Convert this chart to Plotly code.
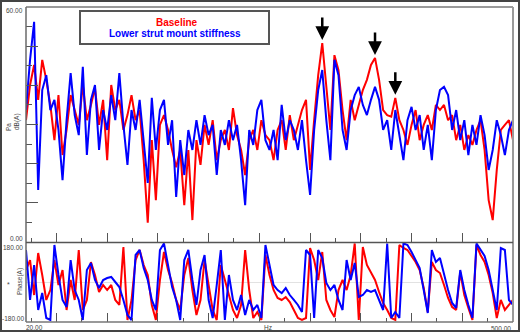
import plotly.graph_objects as go

# Frequency bins (Hz), 4 Hz resolution from 20 to 500 Hz
freq_hz = list(range(20, 501, 4))

# Sound pressure level, dB(A)
spl_baseline = [
    31.1, 40.1, 45.2, 36.3, 46.5, 41.4, 35.0, 26.0, 37.5, 22.2,
    28.6, 37.5, 33.7, 29.9, 40.1, 31.1, 35.0, 39.3, 29.9, 36.3,
    20.9, 40.1, 33.7, 36.3, 28.6, 32.4, 37.5, 31.1, 33.7, 20.9,
    4.9, 26.0, 10.7, 29.9, 32.4, 28.6, 23.5, 19.1, 23.5, 9.4,
    23.5, 5.6, 26.0, 19.7, 29.9, 24.8, 31.1, 20.9, 26.0, 28.6,
    23.5, 34.2, 27.3, 23.5, 17.1, 26.0, 28.6, 23.5, 31.1, 27.3,
    26.0, 20.9, 28.6, 31.1, 23.5, 32.4, 26.0, 29.9, 33.7, 36.3,
    18.4, 31.1, 42.6, 50.8, 38.8, 28.6, 47.7, 43.9, 33.7, 26.0,
    36.3, 31.1, 35.0, 38.8, 41.4, 45.2, 47.0, 41.4, 33.7, 32.4,
    32.0, 36.8, 31.1, 28.6, 24.8, 29.9, 33.7, 26.0, 29.9, 32.4,
    28.6, 35.0, 33.7, 35.0, 31.1, 32.4, 26.0, 29.9, 23.5, 27.3,
    24.8, 28.6, 31.1, 23.5, 10.7, 5.6, 18.4, 28.6, 29.9, 31.1,
    26.0,
]
spl_soft_mount = [
    33.7, 46.5, 56.2, 13.3, 38.8, 42.6, 33.7, 36.3, 28.6, 15.8,
    31.1, 43.1, 32.4, 27.3, 44.7, 22.2, 36.3, 40.1, 23.5, 33.7,
    28.6, 37.5, 31.1, 43.1, 29.9, 19.7, 33.7, 28.6, 36.3, 26.0,
    15.1, 36.8, 23.5, 33.7, 36.3, 24.8, 31.1, 11.5, 26.0, 17.1,
    28.6, 23.5, 31.1, 24.8, 32.4, 27.3, 29.9, 17.1, 28.6, 24.8,
    31.1, 26.0, 29.9, 20.9, 9.4, 28.6, 24.8, 33.7, 36.3, 26.0,
    23.5, 28.6, 20.9, 35.0, 26.0, 31.1, 28.6, 23.5, 31.1, 20.9,
    12.0, 28.6, 38.8, 43.9, 31.1, 20.9, 46.5, 42.6, 28.6, 23.5,
    33.7, 37.5, 39.6, 35.0, 32.4, 36.3, 39.6, 36.3, 28.6, 31.1,
    23.5, 33.7, 27.3, 20.9, 31.1, 34.5, 28.6, 32.4, 23.5, 29.9,
    20.9, 33.7, 38.8, 39.6, 37.5, 28.6, 33.7, 26.0, 31.1, 22.2,
    29.9, 24.8, 32.4, 27.3, 18.4, 23.5, 31.1, 27.3, 22.2, 28.6,
    31.1,
]

# Phase, degrees (wrapped to +/-180)
phase_baseline = [
    57.0, 102.5, -57.0, 134.4, 34.2, -79.7, -34.2, 102.5, -11.4, 57.0,
    -125.3, 11.4, -79.7, 148.1, -125.3, -79.7, 93.4, 34.2, -43.3, -11.4,
    -34.2, -11.4, -79.7, -102.5, 161.8, -170.9, -79.7, 102.5, 148.1, 79.7,
    34.2, -102.5, -170.9, 11.4, 139.0, 57.0, -2.3, -79.7, -125.3, 34.2,
    111.6, -34.2, -148.1, -79.7, 102.5, -11.4, -125.3, -170.9, 79.7, 11.4,
    -57.0, -125.3, -161.8, -102.5, 148.1, -34.2, -161.8, -134.4, -170.9, 125.3,
    34.2, -34.2, -70.6, -79.7, -66.1, -88.9, -125.3, -161.8, -170.9, -161.8,
    157.2, 102.5, 11.4, 139.0, -79.7, -125.3, -157.2, -34.2, 11.4, -34.2,
    34.2, 178.0, -170.9, 161.8, 79.7, 43.3, 11.4, -43.3, -93.4, -125.3,
    -161.8, -170.9, 170.9, 157.2, 148.1, 120.8, 93.4, 57.0, -25.1, -134.4,
    93.4, 57.0, 43.3, -11.4, -70.6, -111.6, -125.3, 47.8, -57.0, -116.2,
    -170.9, 170.9, 125.3, 93.4, 34.2, -47.9, -161.8, -79.7, -125.3, -102.5,
    -79.7,
]
phase_soft_mount = [
    148.1, -79.7, 79.7, -125.3, -47.9, -161.8, -170.9, 170.9, 34.2, -79.7,
    -111.6, 102.5, -34.2, -79.7, -170.9, 57.0, 88.9, 11.4, -25.1, 11.4,
    20.5, 25.1, 2.3, -20.5, -79.7, -148.1, -170.9, 125.3, 148.1, 66.1,
    11.4, -79.7, -125.3, 148.1, 178.0, 79.7, -20.5, -79.7, -170.9, 102.5,
    148.1, 11.4, -102.5, 57.0, 125.3, -79.7, -161.8, -11.4, 148.1, -170.9,
    34.2, -79.7, -125.3, -57.0, -148.1, -79.7, -125.3, -102.5, -161.8, 170.9,
    79.7, -11.4, -34.2, -47.9, -25.1, -57.0, -79.7, -102.5, -134.4, 148.1,
    125.3, -161.8, 148.1, 111.6, -2.3, -34.2, -11.4, -79.7, -125.3, 102.5,
    11.4, 88.9, -66.1, -57.0, -34.2, -43.3, -34.2, -79.7, -125.3, 178.0,
    -161.8, -134.4, -161.8, 178.0, 170.9, 139.0, 102.5, 66.1, -34.2, -139.0,
    148.1, 93.4, 111.6, 34.2, -34.2, -93.4, -116.2, 57.0, -34.2, -102.5,
    -161.8, 178.0, 148.1, 120.8, 57.0, -34.2, -125.3, 157.2, 148.1, -79.7,
    -102.5,
]

# Baseline resonance peaks flagged with arrows (indices into freq_hz)
flagged_peaks = [73, 86, 91]

W, H = 520, 332
FONT = "Liberation Sans, Arial, sans-serif"
RED = "#ff0000"
BLUE = "#0000ff"


def px(x):
    return x / W


def py(y):
    return 1 - y / H


fig = go.Figure()

fig.add_trace(go.Scatter(x=freq_hz, y=spl_baseline, mode="lines",
                         line=dict(color=RED, width=2), xaxis="x", yaxis="y"))
fig.add_trace(go.Scatter(x=freq_hz, y=spl_soft_mount, mode="lines",
                         line=dict(color=BLUE, width=2), xaxis="x", yaxis="y"))
fig.add_trace(go.Scatter(x=freq_hz, y=phase_baseline, mode="lines",
                         line=dict(color=RED, width=2), xaxis="x2", yaxis="y2"))
fig.add_trace(go.Scatter(x=freq_hz, y=phase_soft_mount, mode="lines",
                         line=dict(color=BLUE, width=2), xaxis="x2", yaxis="y2"))

x_dom = [px(26), px(513)]
tick_common = dict(ticks="inside", tickcolor="#555", tickwidth=1,
                   showticklabels=False, showgrid=False, zeroline=False,
                   showline=False)

fig.update_layout(
    width=W, height=H,
    margin=dict(l=0, r=0, t=0, b=0),
    paper_bgcolor="white", plot_bgcolor="white",
    showlegend=False,
    font=dict(family=FONT, color="#444"),
    xaxis=dict(domain=x_dom, range=[20, 500], anchor="y",
               tick0=0, dtick=50, ticklen=9,
               minor=dict(dtick=25, ticklen=4, ticks="inside", tickcolor="#555"),
               **tick_common),
    yaxis=dict(domain=[py(242), py(7)], range=[0, 60], anchor="x",
               tick0=0, dtick=10, ticklen=12,
               minor=dict(dtick=5, ticklen=6, ticks="inside", tickcolor="#555"),
               **tick_common),
    xaxis2=dict(domain=x_dom, range=[20, 500], anchor="y2", matches="x",
                tick0=0, dtick=50, ticklen=9,
                minor=dict(dtick=25, ticklen=4, ticks="inside", tickcolor="#555"),
                **tick_common),
    yaxis2=dict(domain=[py(322), py(243)], range=[-180, 180], anchor="x2",
                ticks="", showticklabels=False, showgrid=False, showline=False,
                zeroline=True, zerolinecolor="#e2e2e2", zerolinewidth=1),
)

shapes = []


def hline(x0, x1, y, color, width):
    shapes.append(dict(type="line", xref="paper", yref="paper",
                       x0=px(x0), x1=px(x1), y0=py(y), y1=py(y),
                       line=dict(color=color, width=width), layer="above"))


def vline(x, y0, y1, color, width):
    shapes.append(dict(type="line", xref="paper", yref="paper",
                       x0=px(x), x1=px(x), y0=py(y0), y1=py(y1),
                       line=dict(color=color, width=width), layer="above"))


# Panel frames
hline(26, 513, 7, "#9a9a9a", 2)
vline(513, 7, 322, "#9a9a9a", 2)
vline(26, 7, 322, "#6a6a6a", 1.5)
hline(26, 513, 242.5, "#555555", 1.5)
hline(26, 513, 322, "#777777", 1.5)

# Legend box
shapes.append(dict(type="rect", xref="paper", yref="paper",
                   x0=px(80), x1=px(269), y0=py(44), y1=py(11),
                   line=dict(color="#555", width=2), fillcolor="white",
                   layer="above"))

# Outer border
shapes.append(dict(type="rect", xref="paper", yref="paper",
                   x0=px(1), x1=px(519), y0=py(331), y1=py(1),
                   line=dict(color="#444", width=2), layer="above"))

annotations = []


def label(text, x, y, size=7, xanchor="center", angle=0, color="#444",
          bold=False):
    if bold:
        text = "<b>" + text + "</b>"
    annotations.append(dict(text=text, x=px(x), y=py(y), xref="paper",
                            yref="paper", showarrow=False, xanchor=xanchor,
                            yanchor="middle", textangle=angle, borderpad=0,
                            font=dict(family=FONT, size=size, color=color)))


label("Baseline", 177, 22, size=10, color=RED, bold=True)
label("Lower strut mount stiffness", 175, 34, size=10, color=BLUE, bold=True)

label("60.00", 24, 11, size=6.5, xanchor="right")
label("0.00", 24, 238, size=6.5, xanchor="right")
label("180.00", 24, 247, size=6.5, xanchor="right")
label("-180.00", 25, 318, size=6.5, xanchor="right")
label("20.00", 25, 327, size=6.5, xanchor="left")
label("500.00", 512, 328, size=6.5, xanchor="right")
label("Hz", 268, 327, size=6.5)
label("Pa", 8, 127, size=6.5, angle=-90)
label("dB(A)", 17, 122, size=6.5, angle=-90)
label("Phase(A)", 20, 282, size=6.5, angle=-90)
label("*", 8, 284, size=7)

# Arrows pointing at the flagged baseline peaks
for idx in flagged_peaks:
    annotations.append(dict(x=freq_hz[idx], y=spl_baseline[idx], xref="x",
                            yref="y", text="", showarrow=True, arrowhead=2,
                            arrowsize=1.1, arrowwidth=2.5, arrowcolor="#000",
                            ax=0, ay=-27, standoff=3))

fig.update_layout(shapes=shapes, annotations=annotations)

fig.write_html("out.html", config={"displayModeBar": False})
